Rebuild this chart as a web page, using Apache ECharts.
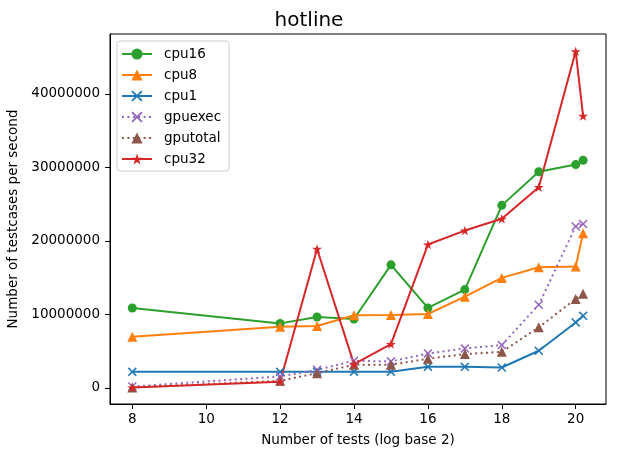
<!DOCTYPE html>
<html>
<head>
<meta charset="utf-8">
<script src="https://cdn.jsdelivr.net/npm/echarts@6/dist/echarts.min.js"></script>
<style>
  html, body { margin: 0; padding: 0; background: #fff; }
  #chart { width: 618px; height: 457px; }
</style>
</head>
<body>
<div id="chart"></div>
<script>
// log2 of number of tests
var xs = [8, 12, 13, 14, 15, 16, 17, 18, 19, 20, 20.2];

// testcases per second
var cpu16 = [10870000, 8770000, 9640000, 9370000, 16740000, 10870000, 13370000, 24830000, 29400000, 30380000, 30970000];
var cpu8 = [6960000, 8320000, 8410000, 9870000, 9920000, 10050000, 12400000, 14960000, 16400000, 16500000, 21050000];
var cpu1 = [2180000, 2180000, 2180000, 2180000, 2180000, 2860000, 2860000, 2770000, 5050000, 8900000, 9800000];
var gpuexec = [180000, 1550000, 2450000, 3680000, 3590000, 4680000, 5360000, 5820000, 11300000, 21960000, 22300000];
var gputotal = [40000, 950000, 2000000, 3140000, 3140000, 3960000, 4590000, 4900000, 8230000, 12100000, 12800000];
var cpu32 = [40000, 820000, 18900000, 3230000, 5960000, 19500000, 21400000, 23000000, 27300000, 45800000, 37000000];

var xTicks = [8, 10, 12, 14, 16, 18, 20];
var yTicks = [0, 10000000, 20000000, 30000000, 40000000];

var starPath = 'path://M10,0L12.245,6.91L19.511,6.91L13.633,11.18L15.878,18.09L10,13.82L4.122,18.09L6.367,11.18L0.489,6.91L7.755,6.91Z';
var crossPath = 'path://M0,1.2L1.2,0L5,3.8L8.8,0L10,1.2L6.2,5L10,8.8L8.8,10L5,6.2L1.2,10L0,8.8L3.8,5Z';

function pairs(ys) {
    return xs.map(function (x, i) { return [x, ys[i]]; });
}

function mk(name, ys, color, symbol, size, dotted) {
    return {
        name: name,
        type: 'line',
        data: pairs(ys),
        symbol: symbol,
        symbolSize: size,
        symbolKeepAspect: true,
        showAllSymbol: true,
        animation: false,
        itemStyle: {color: color},
        lineStyle: {color: color, width: 2, type: dotted ? [2, 3.4] : 'solid'}
    };
}

var chart = echarts.init(document.getElementById('chart'));

var axisFont = {fontFamily: 'DejaVu Sans', fontSize: 13.5, color: '#000'};

chart.setOption({
    animation: false,
    title: {
        text: 'hotline',
        left: 'center',
        top: 6,
        textStyle: {fontFamily: 'DejaVu Sans', fontSize: 20, fontWeight: 'normal', color: '#000'}
    },
    grid: {left: 110, right: 12, top: 34, bottom: 53, outerBoundsMode: 'none', containLabel: false,
        show: true, borderColor: '#000', borderWidth: 1},
    legend: {
        orient: 'vertical',
        left: 117,
        top: 41,
        padding: [6, 8, 5, 4],
        itemWidth: 30,
        itemHeight: 14,
        itemGap: 7,
        backgroundColor: 'rgba(255,255,255,0.8)',
        borderColor: '#cccccc',
        borderWidth: 1,
        borderRadius: 3,
        textStyle: {fontFamily: 'DejaVu Sans', fontSize: 13.5, color: '#000', padding: [0, 0, 0, 7]},
        data: ['cpu16', 'cpu8', 'cpu1', 'gpuexec', 'gputotal', 'cpu32']
    },
    xAxis: {
        type: 'value',
        min: 7.396,
        max: 20.82,
        name: 'Number of tests (log base 2)',
        nameLocation: 'middle',
        nameGap: 29,
        nameTextStyle: axisFont,
        splitLine: {show: false},
        axisLine: {show: true, onZero: false, lineStyle: {color: '#000'}},
        axisTick: {show: true, inside: false, length: 5, customValues: xTicks, lineStyle: {color: '#000'}},
        axisLabel: {customValues: xTicks, margin: 8, fontFamily: 'DejaVu Sans', fontSize: 13.5, color: '#000'}
    },
    yAxis: {
        type: 'value',
        min: -2200000,
        max: 48150000,
        name: 'Number of testcases per second',
        nameLocation: 'middle',
        nameGap: 88,
        nameTextStyle: axisFont,
        splitLine: {show: false},
        axisLine: {show: true, onZero: false, lineStyle: {color: '#000'}},
        axisTick: {show: true, inside: false, length: 5, customValues: yTicks, lineStyle: {color: '#000'}},
        axisLabel: {
            customValues: yTicks, margin: 10, fontFamily: 'DejaVu Sans', fontSize: 13.5, color: '#000',
            formatter: function (v) { return String(v); }
        }
    },
    series: [
        mk('cpu16', cpu16, '#2ca02c', 'circle', 9, false),
        mk('cpu8', cpu8, '#ff7f0e', 'triangle', 10, false),
        mk('cpu1', cpu1, '#1f77b4', crossPath, 9, false),
        mk('gpuexec', gpuexec, '#9467bd', crossPath, 9, true),
        mk('gputotal', gputotal, '#8c564b', 'triangle', 10, true),
        mk('cpu32', cpu32, '#d62728', starPath, 10, false)
    ]
});
</script>
</body>
</html>
